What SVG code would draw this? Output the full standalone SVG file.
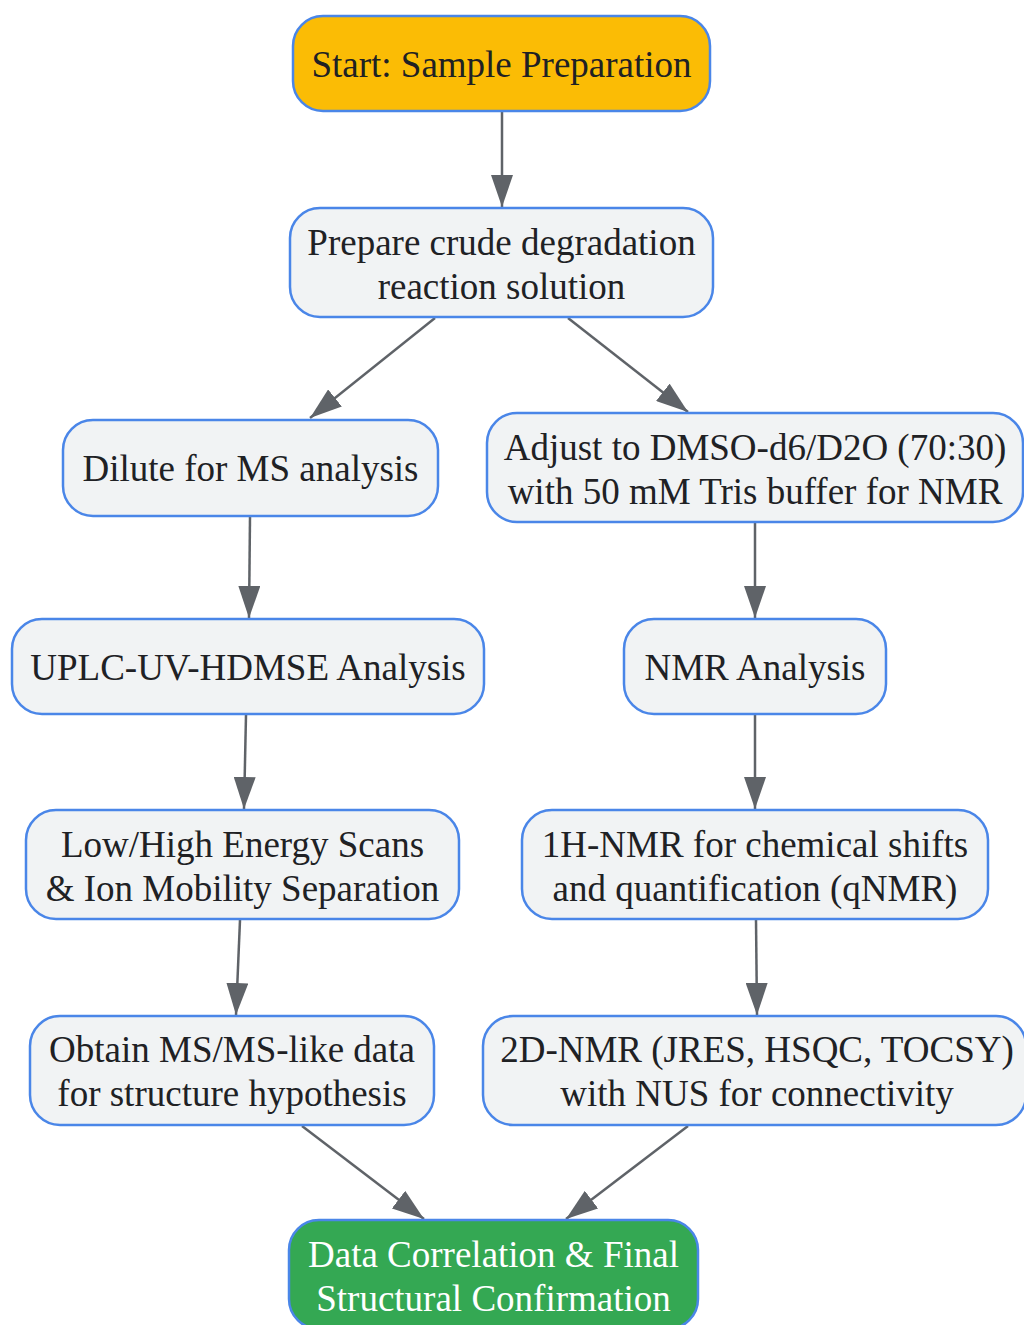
<svg xmlns="http://www.w3.org/2000/svg" width="1024" height="1325" viewBox="0 0 1024 1325">
<style>
.n rect{fill:#f1f3f4;stroke:#4a86e8;stroke-width:2.5}
.n text{font-family:"Liberation Serif","Times New Roman",serif;font-size:37px;fill:#202124;text-anchor:middle;dominant-baseline:central}
#start rect{fill:#fbbc05}
#final rect{fill:#34a853}
#final text{fill:#ffffff}
.e line{stroke:#5f6368;stroke-width:2.5;marker-end:url(#ah)}
</style>
<defs>
<marker id="ah" viewBox="0 0 32 22" refX="32" refY="11" markerWidth="32" markerHeight="22" markerUnits="userSpaceOnUse" orient="auto">
<path d="M0,0 L32,11 L0,22 z" fill="#5f6368"/>
</marker>
</defs>
<rect width="1024" height="1325" fill="#ffffff"/>
<g class="e">
<line x1="502" y1="112" x2="502" y2="207"/>
<line x1="435" y1="318" x2="310" y2="418"/>
<line x1="568" y1="318" x2="688" y2="412"/>
<line x1="250" y1="517" x2="249" y2="618"/>
<line x1="755" y1="523" x2="755" y2="618"/>
<line x1="246" y1="715" x2="244" y2="809"/>
<line x1="755" y1="715" x2="755" y2="809"/>
<line x1="240" y1="920" x2="236" y2="1015"/>
<line x1="756" y1="920" x2="757" y2="1015"/>
<line x1="302" y1="1126" x2="424" y2="1219"/>
<line x1="688" y1="1126" x2="566" y2="1219"/>
</g>
<g id="start" class="n"><rect x="293" y="16" width="417" height="95" rx="30"/><text x="501.5" y="64">Start: Sample Preparation</text></g>
<g id="prepare" class="n"><rect x="290" y="208" width="423" height="109" rx="30"/><text x="501.5" y="242">Prepare crude degradation</text><text x="501.5" y="286">reaction solution</text></g>
<g id="dilute" class="n"><rect x="63" y="420" width="375" height="96" rx="30"/><text x="250.5" y="468">Dilute for MS analysis</text></g>
<g id="adjust" class="n"><rect x="487" y="413" width="536" height="109" rx="30"/><text x="755" y="447">Adjust to DMSO-d6/D2O (70:30)</text><text x="755" y="491">with 50 mM Tris buffer for NMR</text></g>
<g id="uplc" class="n"><rect x="12" y="619" width="472" height="95" rx="30"/><text x="248" y="667">UPLC-UV-HDMSE Analysis</text></g>
<g id="nmr" class="n"><rect x="624" y="619" width="262" height="95" rx="30"/><text x="755" y="667">NMR Analysis</text></g>
<g id="scans" class="n"><rect x="26" y="810" width="433" height="109" rx="30"/><text x="242.5" y="844">Low/High Energy Scans</text><text x="242.5" y="888">&amp; Ion Mobility Separation</text></g>
<g id="h1nmr" class="n"><rect x="522" y="810" width="466" height="109" rx="30"/><text x="755" y="844">1H-NMR for chemical shifts</text><text x="755" y="888">and quantification (qNMR)</text></g>
<g id="msms" class="n"><rect x="30" y="1016" width="404" height="109" rx="30"/><text x="232" y="1049">Obtain MS/MS-like data</text><text x="232" y="1093">for structure hypothesis</text></g>
<g id="nmr2d" class="n"><rect x="483" y="1016" width="543" height="109" rx="30"/><text x="757" y="1049">2D-NMR (JRES, HSQC, TOCSY)</text><text x="757" y="1093">with NUS for connectivity</text></g>
<g id="final" class="n"><rect x="289" y="1220" width="409" height="109" rx="30"/><text x="493.5" y="1254">Data Correlation &amp; Final</text><text x="493.5" y="1298">Structural Confirmation</text></g>
</svg>
